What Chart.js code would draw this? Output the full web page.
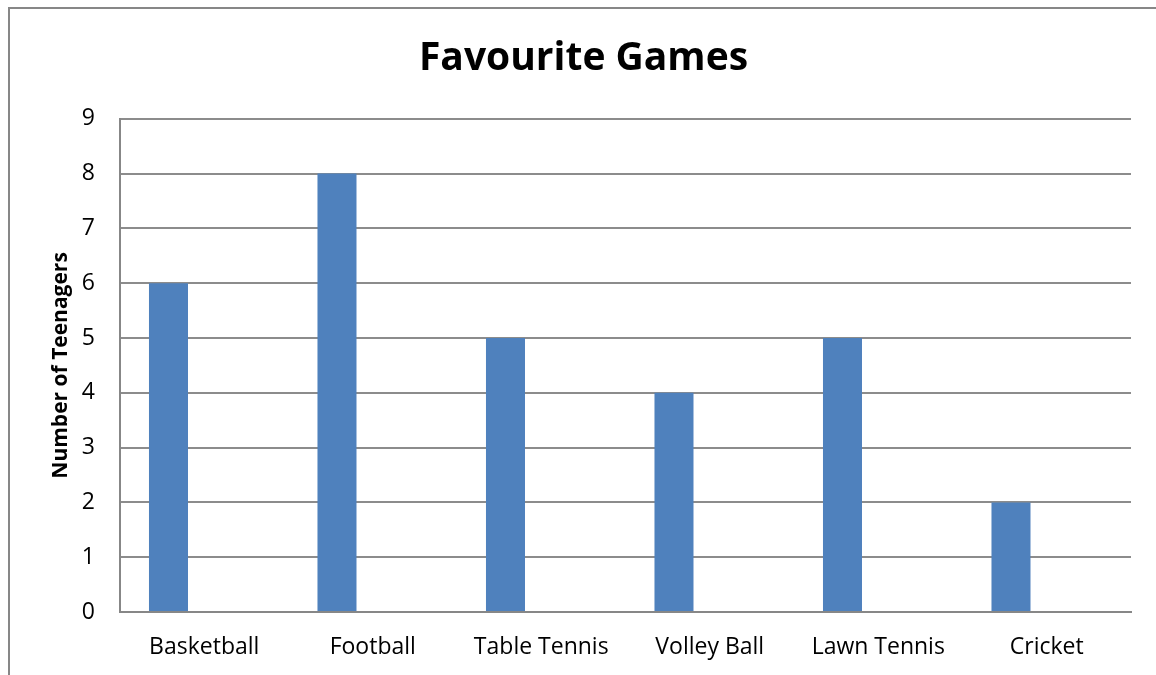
<!DOCTYPE html>
<html>
<head>
<meta charset="utf-8">
<script src="https://cdn.jsdelivr.net/npm/chart.js@4/dist/chart.umd.min.js"></script>
<style>
  html, body { margin: 0; padding: 0; background: #fff; overflow: hidden; }
  #wrap { position: relative; width: 1156px; height: 675px; }
  #frame { position: absolute; left: 8px; top: 7px; width: 1200px; height: 700px;
           border-left: 2px solid #878787; border-top: 2px solid #878787; }
  canvas { position: absolute; left: 0; top: 0; }
</style>
</head>
<body>
<div id="wrap">
  <div id="frame"></div>
  <canvas id="myChart" width="1156" height="675"></canvas>
</div>
<script>
// chart values
var games = ['Basketball', 'Football', 'Table Tennis', 'Volley Ball', 'Lawn Tennis', 'Cricket'];
var teenagers = [6, 8, 5, 4, 5, 2];
var emptySeries = [null, null, null, null, null, null];

var tickFont = { family: '"Open Sans", sans-serif', size: 23 };

var ctx = document.getElementById('myChart').getContext('2d');
var chart = new Chart(ctx, {
    type: 'bar',
    data: {
        labels: games,
        datasets: [{
            label: 'Teenagers',
            data: teenagers,
            backgroundColor: '#4f81bd',
            borderWidth: 0
        }, {
            label: '',
            data: emptySeries,
            backgroundColor: '#c0504d'
        }]
    },
    options: {
        responsive: false,
        animation: false,
        categoryPercentage: 0.849,
        barPercentage: 0.5455,
        // left padding keeps the title centred like the original
        layout: { padding: { top: 0, right: 25, bottom: 0, left: 36 } },
        plugins: {
            legend: { display: false },
            tooltip: { enabled: false },
            title: {
                display: true,
                text: 'Favourite Games',
                color: '#000',
                font: { family: '"Open Sans", sans-serif', size: 39, weight: 'bold' },
                padding: { top: 35, bottom: 37 }
            }
        },
        scales: {
            x: {
                grid: { display: false, drawTicks: false },
                border: { display: true, color: '#878787', width: 2 },
                ticks: { color: '#000', font: tickFont, padding: 22, maxRotation: 0 },
                afterFit: function(scale) { scale.height = 63; }
            },
            y: {
                min: 0,
                max: 9,
                ticks: { stepSize: 1, color: '#000', font: tickFont, padding: 25 },
                grid: { color: '#8c8c8c', lineWidth: 2, drawTicks: false },
                border: { display: true, color: '#878787', width: 2 },
                title: {
                    display: true,
                    text: 'Number of Teenagers',
                    color: '#000',
                    font: { family: '"Open Sans", sans-serif', size: 21, weight: 'bold' },
                    padding: { top: 12, bottom: 0 }
                },
                afterFit: function(scale) { scale.width = 84; }
            }
        }
    }
});
</script>
</body>
</html>
